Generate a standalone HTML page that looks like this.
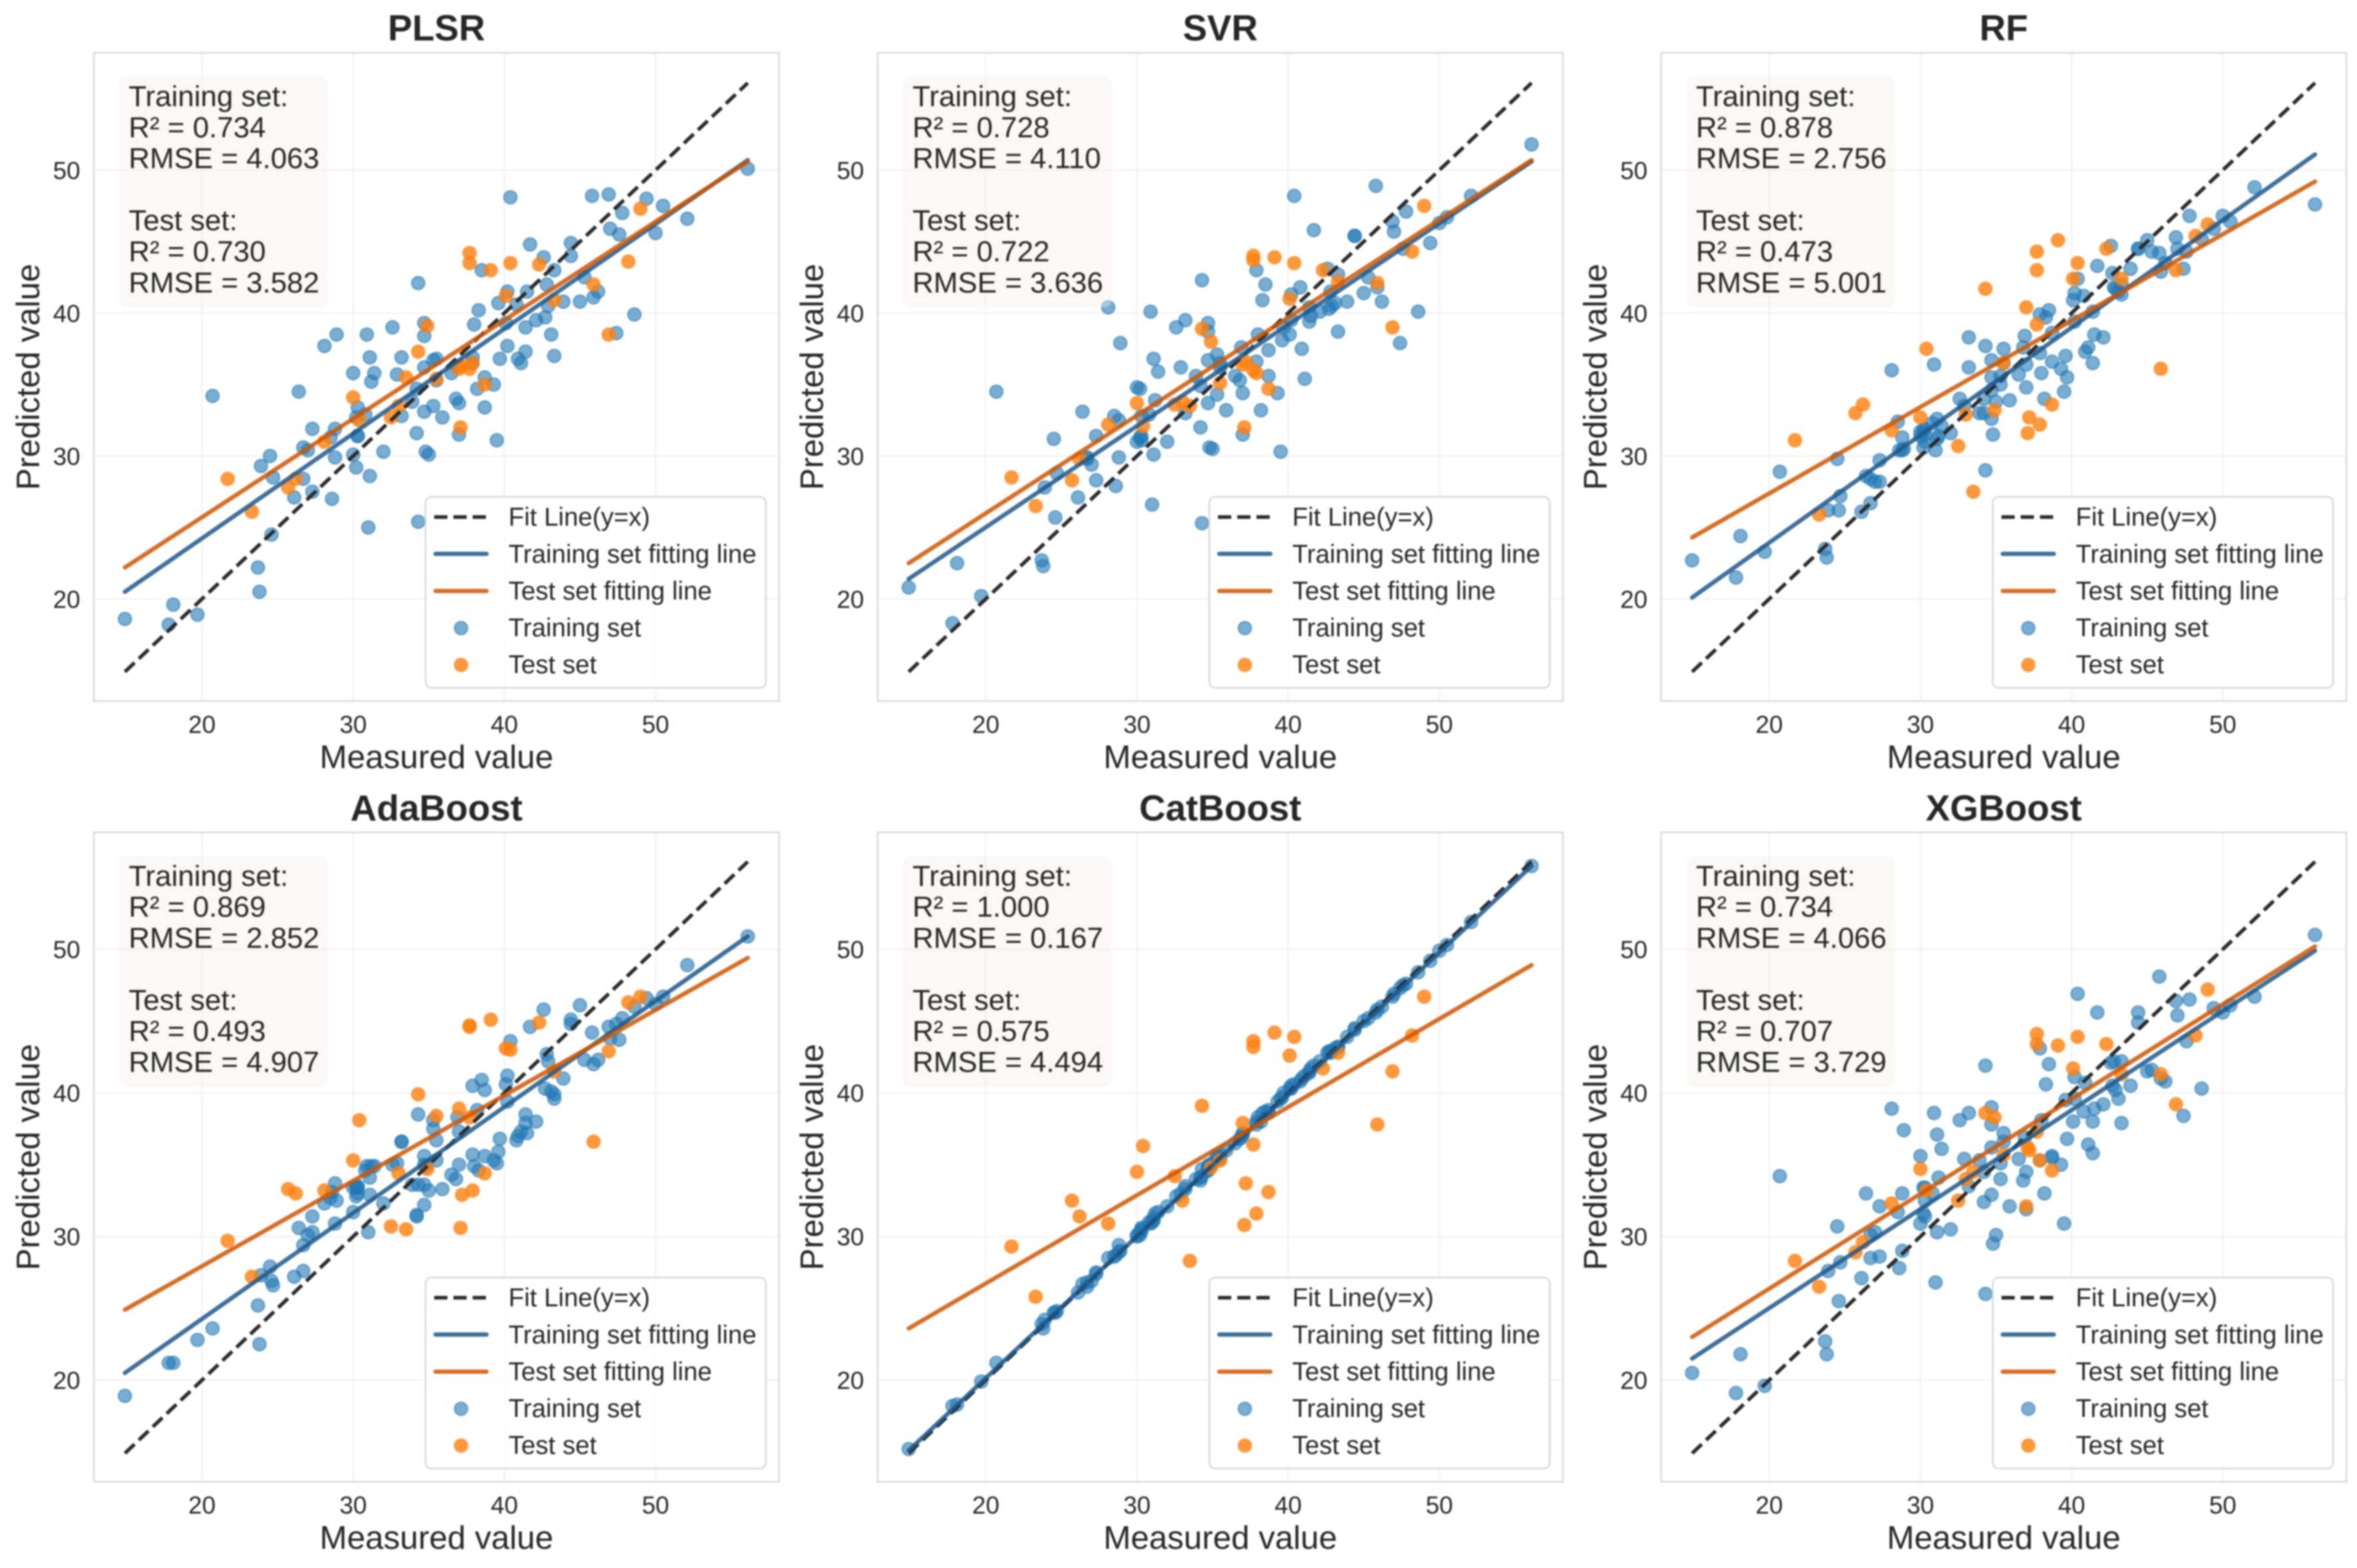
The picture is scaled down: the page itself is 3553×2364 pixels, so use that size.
<!DOCTYPE html>
<html lang="en">
<head>
<meta charset="utf-8">
<title>Measured vs predicted value for six regression models</title>
<style>
html,body{margin:0;padding:0;background:#fff;}
svg{display:block;filter:blur(1.2px);font-family:"Liberation Sans",Arial,sans-serif;}
.title{font-size:55px;font-weight:bold;fill:#262626;text-anchor:middle;}
.axis-label{font-size:49.5px;fill:#262626;text-anchor:middle;}
.stats{font-size:44px;fill:#262626;}
.stats-box{fill:#f5f0e6;fill-opacity:.4;}
.legend-box{fill:#fff;fill-opacity:.8;stroke:#d8d8d8;stroke-width:2.5;}
.legend-text{font-size:38.6px;fill:#262626;}
.spine{fill:none;stroke:#d9d9d9;stroke-width:2.5;}
.l-dash{stroke:#2b2b2b;stroke-width:5.5;stroke-dasharray:20 9;fill:none;}
.l-train{stroke:#1f578a;stroke-opacity:.85;stroke-width:6.5;stroke-linecap:round;}
.l-test{stroke:#ce5602;stroke-opacity:.85;stroke-width:6.5;stroke-linecap:round;}
.d-train{fill:#1f77b4;fill-opacity:.6;stroke:#1f77b4;stroke-opacity:.55;stroke-width:2;}
.d-test{fill:#ff7f0e;fill-opacity:.8;stroke:#ff7f0e;stroke-opacity:.6;stroke-width:2;}
</style>
</head>
<body>
<svg xmlns="http://www.w3.org/2000/svg" width="3553" height="2364" viewBox="0 0 3553 2364">
<rect width="3553" height="2364" fill="#fff"/>

<g id="panel-0" transform="translate(141.5,79.6)">
<rect width="1033" height="977.4" fill="#fff"/>
<g id="plot-0"></g>
<rect class="spine" width="1033" height="977.4"/>
<rect class="stats-box" x="38.5" y="35.6" width="313.6" height="348" rx="10"/>
<text class="stats" x="52.5"><tspan x="52.5" y="80.4">Training set:</tspan><tspan x="52.5" y="127.2">R² = 0.734</tspan><tspan x="52.5" y="174">RMSE = 4.063</tspan><tspan x="52.5" y="267.6">Test set:</tspan><tspan x="52.5" y="314.4">R² = 0.730</tspan><tspan x="52.5" y="361.2">RMSE = 3.582</tspan></text>
<g transform="translate(500,669.4)">
<rect class="legend-box" width="513" height="288" rx="9"/>
<line class="l-dash" x1="13" y1="30.5" x2="94" y2="30.5"/>
<line class="l-train" x1="15" y1="86" x2="92" y2="86"/>
<line class="l-test" x1="15" y1="142" x2="92" y2="142"/>
<circle class="d-train" cx="53.5" cy="198" r="10"/>
<circle class="d-test" cx="53.5" cy="253.5" r="10"/>
<text class="legend-text" x="125" y="43.7">Fit Line(y=x)</text>
<text class="legend-text" x="125" y="99.3">Training set fitting line</text>
<text class="legend-text" x="125" y="154.9">Test set fitting line</text>
<text class="legend-text" x="125" y="210.5">Training set</text>
<text class="legend-text" x="125" y="266.1">Test set</text>
</g>
<text class="title" x="516.5" y="-18.6">PLSR</text>
<text class="axis-label" x="516.5" y="1078.4">Measured value</text>
<text class="axis-label" transform="translate(-82.5,488.7) rotate(-90)">Predicted value</text>
</g>

<g id="panel-1" transform="translate(1323,79.6)">
<rect width="1033" height="977.4" fill="#fff"/>
<g id="plot-1"></g>
<rect class="spine" width="1033" height="977.4"/>
<rect class="stats-box" x="38.5" y="35.6" width="313.6" height="348" rx="10"/>
<text class="stats" x="52.5"><tspan x="52.5" y="80.4">Training set:</tspan><tspan x="52.5" y="127.2">R² = 0.728</tspan><tspan x="52.5" y="174">RMSE = 4.110</tspan><tspan x="52.5" y="267.6">Test set:</tspan><tspan x="52.5" y="314.4">R² = 0.722</tspan><tspan x="52.5" y="361.2">RMSE = 3.636</tspan></text>
<g transform="translate(500,669.4)">
<rect class="legend-box" width="513" height="288" rx="9"/>
<line class="l-dash" x1="13" y1="30.5" x2="94" y2="30.5"/>
<line class="l-train" x1="15" y1="86" x2="92" y2="86"/>
<line class="l-test" x1="15" y1="142" x2="92" y2="142"/>
<circle class="d-train" cx="53.5" cy="198" r="10"/>
<circle class="d-test" cx="53.5" cy="253.5" r="10"/>
<text class="legend-text" x="125" y="43.7">Fit Line(y=x)</text>
<text class="legend-text" x="125" y="99.3">Training set fitting line</text>
<text class="legend-text" x="125" y="154.9">Test set fitting line</text>
<text class="legend-text" x="125" y="210.5">Training set</text>
<text class="legend-text" x="125" y="266.1">Test set</text>
</g>
<text class="title" x="516.5" y="-18.6">SVR</text>
<text class="axis-label" x="516.5" y="1078.4">Measured value</text>
<text class="axis-label" transform="translate(-82.5,488.7) rotate(-90)">Predicted value</text>
</g>

<g id="panel-2" transform="translate(2504,79.6)">
<rect width="1033" height="977.4" fill="#fff"/>
<g id="plot-2"></g>
<rect class="spine" width="1033" height="977.4"/>
<rect class="stats-box" x="38.5" y="35.6" width="313.6" height="348" rx="10"/>
<text class="stats" x="52.5"><tspan x="52.5" y="80.4">Training set:</tspan><tspan x="52.5" y="127.2">R² = 0.878</tspan><tspan x="52.5" y="174">RMSE = 2.756</tspan><tspan x="52.5" y="267.6">Test set:</tspan><tspan x="52.5" y="314.4">R² = 0.473</tspan><tspan x="52.5" y="361.2">RMSE = 5.001</tspan></text>
<g transform="translate(500,669.4)">
<rect class="legend-box" width="513" height="288" rx="9"/>
<line class="l-dash" x1="13" y1="30.5" x2="94" y2="30.5"/>
<line class="l-train" x1="15" y1="86" x2="92" y2="86"/>
<line class="l-test" x1="15" y1="142" x2="92" y2="142"/>
<circle class="d-train" cx="53.5" cy="198" r="10"/>
<circle class="d-test" cx="53.5" cy="253.5" r="10"/>
<text class="legend-text" x="125" y="43.7">Fit Line(y=x)</text>
<text class="legend-text" x="125" y="99.3">Training set fitting line</text>
<text class="legend-text" x="125" y="154.9">Test set fitting line</text>
<text class="legend-text" x="125" y="210.5">Training set</text>
<text class="legend-text" x="125" y="266.1">Test set</text>
</g>
<text class="title" x="516.5" y="-18.6">RF</text>
<text class="axis-label" x="516.5" y="1078.4">Measured value</text>
<text class="axis-label" transform="translate(-82.5,488.7) rotate(-90)">Predicted value</text>
</g>

<g id="panel-3" transform="translate(141.5,1255)">
<rect width="1033" height="979" fill="#fff"/>
<g id="plot-3"></g>
<rect class="spine" width="1033" height="979"/>
<rect class="stats-box" x="38.5" y="35.6" width="313.6" height="348" rx="10"/>
<text class="stats" x="52.5"><tspan x="52.5" y="80.4">Training set:</tspan><tspan x="52.5" y="127.2">R² = 0.869</tspan><tspan x="52.5" y="174">RMSE = 2.852</tspan><tspan x="52.5" y="267.6">Test set:</tspan><tspan x="52.5" y="314.4">R² = 0.493</tspan><tspan x="52.5" y="361.2">RMSE = 4.907</tspan></text>
<g transform="translate(500,671)">
<rect class="legend-box" width="513" height="288" rx="9"/>
<line class="l-dash" x1="13" y1="30.5" x2="94" y2="30.5"/>
<line class="l-train" x1="15" y1="86" x2="92" y2="86"/>
<line class="l-test" x1="15" y1="142" x2="92" y2="142"/>
<circle class="d-train" cx="53.5" cy="198" r="10"/>
<circle class="d-test" cx="53.5" cy="253.5" r="10"/>
<text class="legend-text" x="125" y="43.7">Fit Line(y=x)</text>
<text class="legend-text" x="125" y="99.3">Training set fitting line</text>
<text class="legend-text" x="125" y="154.9">Test set fitting line</text>
<text class="legend-text" x="125" y="210.5">Training set</text>
<text class="legend-text" x="125" y="266.1">Test set</text>
</g>
<text class="title" x="516.5" y="-18">AdaBoost</text>
<text class="axis-label" x="516.5" y="1080">Measured value</text>
<text class="axis-label" transform="translate(-82.5,489.5) rotate(-90)">Predicted value</text>
</g>

<g id="panel-4" transform="translate(1323,1255)">
<rect width="1033" height="979" fill="#fff"/>
<g id="plot-4"></g>
<rect class="spine" width="1033" height="979"/>
<rect class="stats-box" x="38.5" y="35.6" width="313.6" height="348" rx="10"/>
<text class="stats" x="52.5"><tspan x="52.5" y="80.4">Training set:</tspan><tspan x="52.5" y="127.2">R² = 1.000</tspan><tspan x="52.5" y="174">RMSE = 0.167</tspan><tspan x="52.5" y="267.6">Test set:</tspan><tspan x="52.5" y="314.4">R² = 0.575</tspan><tspan x="52.5" y="361.2">RMSE = 4.494</tspan></text>
<g transform="translate(500,671)">
<rect class="legend-box" width="513" height="288" rx="9"/>
<line class="l-dash" x1="13" y1="30.5" x2="94" y2="30.5"/>
<line class="l-train" x1="15" y1="86" x2="92" y2="86"/>
<line class="l-test" x1="15" y1="142" x2="92" y2="142"/>
<circle class="d-train" cx="53.5" cy="198" r="10"/>
<circle class="d-test" cx="53.5" cy="253.5" r="10"/>
<text class="legend-text" x="125" y="43.7">Fit Line(y=x)</text>
<text class="legend-text" x="125" y="99.3">Training set fitting line</text>
<text class="legend-text" x="125" y="154.9">Test set fitting line</text>
<text class="legend-text" x="125" y="210.5">Training set</text>
<text class="legend-text" x="125" y="266.1">Test set</text>
</g>
<text class="title" x="516.5" y="-18">CatBoost</text>
<text class="axis-label" x="516.5" y="1080">Measured value</text>
<text class="axis-label" transform="translate(-82.5,489.5) rotate(-90)">Predicted value</text>
</g>

<g id="panel-5" transform="translate(2504,1255)">
<rect width="1033" height="979" fill="#fff"/>
<g id="plot-5"></g>
<rect class="spine" width="1033" height="979"/>
<rect class="stats-box" x="38.5" y="35.6" width="313.6" height="348" rx="10"/>
<text class="stats" x="52.5"><tspan x="52.5" y="80.4">Training set:</tspan><tspan x="52.5" y="127.2">R² = 0.734</tspan><tspan x="52.5" y="174">RMSE = 4.066</tspan><tspan x="52.5" y="267.6">Test set:</tspan><tspan x="52.5" y="314.4">R² = 0.707</tspan><tspan x="52.5" y="361.2">RMSE = 3.729</tspan></text>
<g transform="translate(500,671)">
<rect class="legend-box" width="513" height="288" rx="9"/>
<line class="l-dash" x1="13" y1="30.5" x2="94" y2="30.5"/>
<line class="l-train" x1="15" y1="86" x2="92" y2="86"/>
<line class="l-test" x1="15" y1="142" x2="92" y2="142"/>
<circle class="d-train" cx="53.5" cy="198" r="10"/>
<circle class="d-test" cx="53.5" cy="253.5" r="10"/>
<text class="legend-text" x="125" y="43.7">Fit Line(y=x)</text>
<text class="legend-text" x="125" y="99.3">Training set fitting line</text>
<text class="legend-text" x="125" y="154.9">Test set fitting line</text>
<text class="legend-text" x="125" y="210.5">Training set</text>
<text class="legend-text" x="125" y="266.1">Test set</text>
</g>
<text class="title" x="516.5" y="-18">XGBoost</text>
<text class="axis-label" x="516.5" y="1080">Measured value</text>
<text class="axis-label" transform="translate(-82.5,489.5) rotate(-90)">Predicted value</text>
</g>
</svg>

<script>
const xTickValues = [20, 30, 40, 50];
const yTickValues = [20, 30, 40, 50];

const trainMeasured = [
14.9,17.8,18.1,19.7,20.7,23.7,23.8,23.9,24.5,24.6,
24.7,26.1,26.4,26.7,26.7,27.0,27.3,27.3,28.1,28.5,
28.6,28.8,28.8,28.9,30.0,30.0,30.2,30.2,30.3,30.3,
30.3,30.8,30.9,31.0,31.1,31.1,31.2,31.4,32.0,32.6,
32.9,33.2,33.2,33.9,34.2,34.2,34.3,34.3,34.7,34.7,
34.7,34.7,34.8,35.0,35.3,35.3,35.5,35.5,35.9,36.5,
36.8,36.9,37.0,37.0,37.9,37.9,38.0,38.2,38.3,38.5,
38.7,38.7,39.3,39.5,39.6,39.7,40.1,40.2,40.2,40.4,
40.8,40.9,41.1,41.4,41.4,41.5,41.7,42.1,42.6,42.7,
42.8,42.9,43.1,43.3,43.3,43.9,44.4,44.4,45.0,45.3,
45.8,45.9,46.2,46.9,47.0,47.4,47.6,47.8,48.6,49.4,
50.0,50.5,52.1,56.1];

const testMeasured = [
21.7,23.3,25.7,26.2,28.1,30.0,30.4,32.5,33.0,33.5,
34.3,34.9,35.5,37.0,37.1,37.2,37.7,37.7,37.7,37.9,
38.7,39.1,40.1,40.4,42.3,43.3,45.9,46.9,48.2,49.0];

const plsrTrainPredicted = [
18.6,18.2,19.6,18.9,34.2,22.2,20.5,29.3,30.0,24.5,
28.5,27.1,34.5,30.6,28.4,30.4,31.9,27.5,37.7,31.3,
27.0,31.9,29.9,38.5,35.8,30.1,29.2,32.7,33.4,31.4,
31.4,32.9,38.5,25.0,28.6,36.9,35.2,35.8,30.3,39.0,
35.7,36.9,32.8,33.8,34.7,31.6,42.1,25.4,33.1,36.2,
39.3,38.4,30.3,30.1,33.5,36.7,36.8,35.3,32.7,35.8,
34.0,36.3,33.7,31.5,36.9,36.5,39.2,34.7,40.2,43.0,
35.5,33.4,35.0,31.1,40.7,36.8,39.3,41.5,37.7,48.1,
40.6,36.8,36.5,37.3,39.0,41.5,44.8,39.5,43.9,39.7,
42.0,40.5,38.5,43.0,37.0,40.8,44.9,44.0,40.8,42.5,
48.2,41.1,41.5,48.3,45.9,38.6,45.5,47.0,39.9,48.0,
45.6,47.5,46.6,50.1];

const svrTrainPredicted = [
20.8,18.3,22.5,20.2,34.5,22.7,22.3,27.8,31.2,25.7,
28.8,27.1,33.1,29.9,29.8,29.4,31.4,28.3,40.4,32.8,
27.9,32.5,29.9,37.9,34.8,31.0,31.3,34.7,31.4,32.8,
31.1,32.9,40.1,26.6,36.8,30.1,33.9,35.9,31.0,39.0,
36.2,39.5,33.0,35.6,32.0,34.9,42.3,25.3,33.7,36.7,
39.3,38.7,30.6,30.5,34.3,37.1,36.5,36.2,33.2,35.6,
35.3,37.6,34.4,31.5,43.0,36.6,38.5,33.2,40.9,42.0,
37.4,35.6,34.4,30.3,38.1,39.0,38.5,41.3,39.5,48.2,
41.8,37.5,35.4,40.4,39.4,39.8,45.8,40.1,43.1,40.3,
41.5,40.5,40.7,42.7,38.7,40.8,45.4,45.4,41.4,42.5,
48.9,41.8,40.8,46.4,45.7,37.9,44.5,47.1,40.1,44.9,
46.3,46.7,48.2,51.8];

const rfTrainPredicted = [
22.7,21.5,24.4,23.3,28.9,23.5,22.9,26.2,29.8,26.2,
27.2,26.1,28.6,26.7,28.4,28.2,29.7,28.2,36.0,32.4,
30.4,31.3,30.4,30.5,31.7,31.4,30.6,31.8,31.0,31.5,
31.9,32.3,36.4,30.4,31.2,32.6,31.4,32.1,31.6,34.0,
33.5,38.3,36.2,33.0,33.0,34.0,37.7,29.0,32.6,35.5,
36.7,34.6,31.5,33.8,35.0,35.6,37.5,36.5,33.9,35.7,
37.6,38.4,34.8,36.4,39.9,37.2,35.8,34.0,39.7,40.2,
38.6,36.6,36.1,34.5,37.0,35.5,40.9,41.4,39.4,42.4,
41.2,37.3,37.6,36.5,40.1,38.5,43.3,38.3,44.7,42.8,
41.8,41.7,41.5,41.3,42.0,43.1,44.5,44.5,45.1,44.3,
44.2,42.9,43.5,45.3,44.5,43.1,44.3,46.8,45.2,45.9,
46.8,46.4,48.8,47.6];

const adaTrainPredicted = [
18.9,21.2,21.2,22.8,23.6,25.2,22.5,27.3,27.9,26.9,
26.6,27.2,30.6,27.6,29.4,30.1,31.4,30.3,32.3,32.7,
33.1,33.7,30.9,32.5,31.7,33.4,32.8,33.4,33.5,33.4,
33.0,34.6,34.9,30.3,34.1,32.9,34.9,34.9,32.3,35.0,
35.1,36.6,36.6,33.6,31.4,31.5,38.5,33.6,35.0,35.6,
33.6,32.2,34.9,33.2,38.1,37.5,35.3,36.7,33.3,34.3,
34.0,38.3,37.3,35.0,40.5,35.7,34.9,38.8,34.6,40.9,
40.2,35.6,35.3,35.1,35.9,36.8,40.6,41.2,39.4,43.6,
36.7,37.0,37.3,38.5,37.9,37.2,44.6,38.0,45.8,40.3,
42.7,42.2,40.1,39.9,39.6,41.0,45.1,44.8,46.1,42.3,
44.2,42.0,42.3,44.6,43.8,44.8,43.7,45.2,46.0,46.6,
46.2,46.7,48.9,50.9];

const catTrainPredicted = [
15.2,18.2,18.3,19.9,21.2,23.9,23.6,24.2,24.7,24.7,
24.8,26.1,26.7,26.5,26.8,26.9,27.5,27.4,28.5,28.6,
28.7,29.4,28.9,29.0,30.1,30.0,30.3,30.1,30.5,30.6,
30.4,31.0,30.9,31.0,31.3,31.1,31.6,31.7,32.1,32.8,
33.0,33.5,33.3,34.0,33.9,34.1,34.7,34.2,34.8,34.6,
34.9,34.6,35.0,35.1,35.5,35.6,35.7,35.4,36.0,36.5,
36.8,36.9,37.2,37.1,38.0,37.8,38.3,38.0,38.6,38.7,
38.8,38.6,39.4,39.6,39.7,40.0,40.3,40.5,40.3,40.6,
40.8,41.0,41.2,41.5,41.4,41.7,41.9,42.2,42.8,42.9,
42.8,42.9,43.1,43.2,43.2,43.9,44.5,44.4,45.0,45.2,
45.6,45.8,46.0,46.7,46.9,47.3,47.5,47.6,48.4,49.2,
49.9,50.3,51.9,55.8];

const xgbTrainPredicted = [
20.5,19.1,21.8,19.6,34.2,22.7,21.8,27.6,30.7,25.5,
28.2,27.1,33.0,28.5,30.1,30.3,32.1,28.6,38.9,31.7,
27.8,33.0,29.0,37.4,35.6,30.9,31.6,33.4,33.4,32.5,
31.4,33.0,38.6,26.8,30.3,37.1,34.1,36.1,30.5,38.1,
35.4,38.6,33.5,35.3,32.4,34.5,41.9,26.0,32.9,36.2,
39.0,37.8,29.5,30.1,35.1,34.0,37.2,36.6,32.1,35.4,
33.9,36.9,34.5,31.9,43.1,35.3,38.1,33.0,40.6,42.0,
35.5,35.6,35.0,30.9,39.5,36.8,38.0,41.1,39.6,46.9,
38.7,40.7,36.4,35.8,38.0,38.9,45.6,39.2,42.1,40.5,
42.2,40.2,39.6,42.2,37.9,40.5,45.6,44.9,41.5,41.6,
48.1,41.0,40.8,46.4,45.4,38.4,43.6,46.5,40.3,45.9,
45.6,46.1,46.7,51.0];

const plsrTestPredicted = [
28.4,26.1,27.8,28.4,31.0,34.1,32.5,32.7,33.5,35.5,
37.3,39.1,35.4,36.1,32.0,36.3,44.2,43.5,36.1,36.5,
35.0,43.0,41.2,43.5,43.4,40.9,42.0,38.5,43.6,47.3];

const svrTestPredicted = [
28.5,26.5,28.3,29.8,32.2,33.7,32.1,33.6,33.8,33.5,
38.9,38.0,35.1,36.4,32.0,36.6,44.0,43.7,36.0,35.8,
34.7,43.9,41.0,43.5,43.0,42.2,42.1,39.0,44.3,47.5];

const rfTestPredicted = [
31.1,25.9,33.0,33.6,31.8,32.7,37.5,30.7,32.9,27.5,
41.7,33.2,36.5,40.4,31.6,32.7,44.3,43.0,39.2,32.2,
33.6,45.1,42.4,43.5,44.5,42.4,36.1,43.0,45.4,46.2];

const adaTestPredicted = [
29.7,27.2,33.3,33.0,33.2,35.3,38.1,30.7,34.4,30.5,
39.9,34.7,38.4,38.9,30.6,32.9,44.7,44.6,38.3,33.2,
34.4,45.1,43.1,43.0,44.9,41.5,36.6,42.9,46.3,46.7];

const catTestPredicted = [
29.3,25.8,32.5,31.4,30.9,34.5,36.3,34.2,32.5,28.3,
39.1,34.8,35.3,37.9,30.8,33.7,43.6,43.2,36.4,31.6,
33.1,44.2,42.6,43.9,41.7,42.8,37.8,41.5,44.0,46.7];

const xgbTestPredicted = [
28.3,26.5,28.9,29.6,32.3,34.7,33.2,32.5,34.0,34.5,
38.6,38.3,35.7,32.1,36.2,36.0,44.1,43.4,37.3,35.3,
34.6,43.3,41.7,43.9,43.4,41.3,41.3,39.2,44.0,47.2];

const fitLineMeasured = [14.9, 56.1];
const identityLineValues = [14.9, 56.1];

const plsrTrainFit = [20.5, 50.7];
const plsrTestFit = [22.2, 50.6];
const svrTrainFit = [21.4, 50.6];
const svrTestFit = [22.5, 50.7];
const rfTrainFit = [20.1, 51.1];
const rfTestFit = [24.3, 49.2];
const adaTrainFit = [20.5, 50.9];
const adaTestFit = [24.9, 49.4];
const catTrainFit = [15.1, 55.8];
const catTestFit = [23.6, 48.9];
const xgbTrainFit = [21.5, 49.9];
const xgbTestFit = [23.0, 50.2];

const trainPredictedByPanel = [plsrTrainPredicted, svrTrainPredicted, rfTrainPredicted, adaTrainPredicted, catTrainPredicted, xgbTrainPredicted];
const testPredictedByPanel = [plsrTestPredicted, svrTestPredicted, rfTestPredicted, adaTestPredicted, catTestPredicted, xgbTestPredicted];
const trainFitByPanel = [plsrTrainFit, svrTrainFit, rfTrainFit, adaTrainFit, catTrainFit, xgbTrainFit];
const testFitByPanel = [plsrTestFit, svrTestFit, rfTestFit, adaTestFit, catTestFit, xgbTestFit];

const NS = 'http://www.w3.org/2000/svg';

function xScale(v) { return 163 + (v - 20) * 22.79; }
function yScale(panel, v) {
  return panel < 3 ? 823.4 - (v - 20) * 21.55 : 825.7 - (v - 20) * 21.65;
}
function panelHeight(panel) { return panel < 3 ? 977.4 : 979; }

function setAttrs(el, attrs) {
  Object.keys(attrs).forEach(function (k) { el.setAttribute(k, attrs[k]); });
  return el;
}

function drawPanel(p) {
  const host = document.getElementById('plot-' + p);
  const h = panelHeight(p);

  xTickValues.forEach(function (t) {
    const grid = setAttrs(document.createElementNS(NS, 'line'), {x1: xScale(t), x2: xScale(t), y1: 0, y2: h, stroke: '#f1f0f0', 'stroke-width': 2});
    
    
    host.appendChild(grid);
    const label = setAttrs(document.createElementNS(NS, 'text'), {x: xScale(t), y: h + 48, 'text-anchor': 'middle', 'font-size': 37, fill: '#262626'});
    
    
    label.textContent = String(t);
    host.appendChild(label);
  });

  yTickValues.forEach(function (t) {
    const grid = setAttrs(document.createElementNS(NS, 'line'), {x1: 0, x2: 1033, y1: yScale(p, t), y2: yScale(p, t), stroke: '#f1f0f0', 'stroke-width': 2});
    
    
    host.appendChild(grid);
    const label = setAttrs(document.createElementNS(NS, 'text'), {x: -20.5, y: yScale(p, t) + 13.3, 'text-anchor': 'end', 'font-size': 37, fill: '#262626'});
    
    
    label.textContent = String(t);
    host.appendChild(label);
  });

  trainMeasured.forEach(function (x, i) {
    const dot = setAttrs(document.createElementNS(NS, 'circle'), {cx: xScale(x), cy: yScale(p, trainPredictedByPanel[p][i]), r: 10, 'class': 'd-train'});
    
    
    host.appendChild(dot);
  });

  testMeasured.forEach(function (x, i) {
    const dot = setAttrs(document.createElementNS(NS, 'circle'), {cx: xScale(x), cy: yScale(p, testPredictedByPanel[p][i]), r: 10, 'class': 'd-test'});
    
    
    host.appendChild(dot);
  });

  const x1 = xScale(fitLineMeasured[0]);
  const x2 = xScale(fitLineMeasured[1]);

  const identity = setAttrs(document.createElementNS(NS, 'line'), {x1: x1, x2: x2, y1: yScale(p, identityLineValues[0]), y2: yScale(p, identityLineValues[1]), 'class': 'l-dash'});
  
  
  host.appendChild(identity);

  const trainLine = setAttrs(document.createElementNS(NS, 'line'), {x1: x1, x2: x2, y1: yScale(p, trainFitByPanel[p][0]), y2: yScale(p, trainFitByPanel[p][1]), 'class': 'l-train'});
  
  
  host.appendChild(trainLine);

  const testLine = setAttrs(document.createElementNS(NS, 'line'), {x1: x1, x2: x2, y1: yScale(p, testFitByPanel[p][0]), y2: yScale(p, testFitByPanel[p][1]), 'class': 'l-test'});
  
  
  host.appendChild(testLine);
}

trainPredictedByPanel.forEach(function (_, p) { drawPanel(p); });
</script>
</body>
</html>
